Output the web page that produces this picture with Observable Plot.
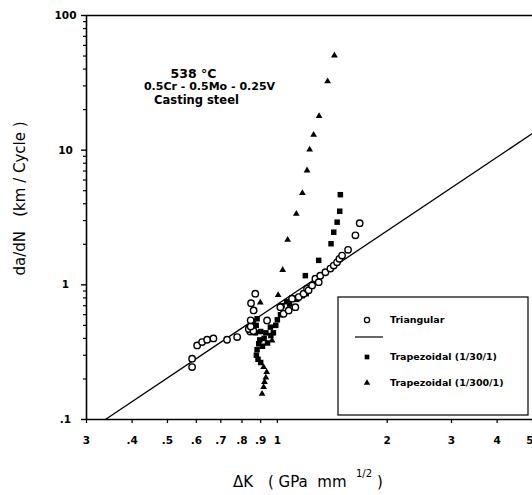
<!DOCTYPE html>
<html><head><meta charset="utf-8">
<script src="https://cdn.jsdelivr.net/npm/d3@7"></script>
<script src="https://cdn.jsdelivr.net/npm/@observablehq/plot@0.6"></script>
<style>body{margin:0;background:#fff}#chart{width:532px;height:495px}</style>
</head><body><div id="chart"></div>
<script>
// ---- tick values / labels ----
const xTicks = [0.3, 0.4, 0.5, 0.6, 0.7, 0.8, 0.9, 1, 2, 3, 4, 5];
const xTickLabels = ["3", ".4", ".5", ".6", ".7", ".8", ".9", "1", "2", "3", "4", "5"];
const yTicks = [0.1, 1, 10, 100];
const yTickLabels = [".1", "1", "10", "100"];
const yMinorTicks = [0.2,0.3,0.4,0.5,0.6,0.7,0.8,0.9,2,3,4,5,6,7,8,9,20,30,40,50,60,70,80,90];

// ---- annotation / titles / legend text ----
const annoLines = ["538 °C", "0.5Cr - 0.5Mo - 0.25V", "Casting steel"];
const yTitle = "da/dN   (km / Cycle )";
const legendLabels = ["Triangular", "", "Trapezoidal (1/30/1)", "Trapezoidal (1/300/1)"];

// ---- fitted line (Triangular) ----
const fitX = [0.338, 5];
const fitY = [0.1, 13.3];

// ---- Triangular (open circles) ----
const triX = [0.584,0.584,0.603,0.622,0.642,0.668,0.728,0.776,
  0.843,0.835,0.86,0.845,0.845,0.861,0.847,0.870,
  0.937,1.019,1.040,1.074,1.097,1.12,1.144,1.18,1.206,1.218,1.245,1.271,1.298,1.311,1.354,1.397,1.427,1.457,1.479,1.504,1.562,1.636,1.681];
const triY = [0.283,0.245,0.355,0.376,0.391,0.40,0.391,0.409,
  0.45,0.47,0.455,0.49,0.545,0.646,0.731,0.859,
  0.544,0.683,0.61,0.646,0.789,0.683,0.811,0.859,0.935,0.91,0.99,1.11,1.047,1.17,1.24,1.32,1.39,1.47,1.56,1.65,1.82,2.33,2.87];

// ---- Trapezoidal (1/30/1) (filled squares) ----
const sqX = [1.488,1.482,1.458,1.427,1.403,1.298,1.193,
  1.2,1.17,1.13,1.097,1.06,1.03,1.02,1.0,0.957,
  0.96,0.93,0.90,0.92,0.895,0.86,0.875,0.87,
  0.889,0.88,0.876,0.885,0.9,
  0.94,0.975,0.91,0.88,0.99,1.08];
const sqY = [4.67,3.52,2.92,2.46,2.02,1.52,1.17,
  0.86,0.83,0.78,0.80,0.75,0.70,0.60,0.55,0.485,
  0.42,0.44,0.45,0.40,0.39,0.52,0.50,0.44,
  0.365,0.33,0.30,0.28,0.265,
  0.37,0.44,0.35,0.56,0.50,0.72];

// ---- Trapezoidal (1/300/1) (filled triangles) ----
const tpX = [1.433,1.373,1.301,1.257,1.226,1.206,1.171,1.127,1.067,1.034,1.005,0.898,0.967,0.917,0.935,0.93,0.922,0.917,0.908];
const tpY = [50.5,32.4,17.9,13.0,10.1,7.07,4.80,3.37,2.16,1.29,0.84,0.74,0.386,0.245,0.225,0.205,0.19,0.174,0.155];

const pts = (xs, ys) => xs.map((x, i) => ({x, y: ys[i]}));
const xLab = xTicks.map((x, i) => ({x, t: xTickLabels[i]}));
const last = xLab.length - 1;

const svg = Plot.plot({
  width: 532, height: 495,
  marginLeft: 86, marginRight: 0, marginTop: 15, marginBottom: 76,
  style: {fontFamily: "DejaVu Sans", fontSize: "10.5px", color: "black", background: "white"},
  x: {type: "log", domain: [0.3, 5], label: null},
  y: {type: "log", domain: [0.1, 100], label: null},
  marks: [
    Plot.axisX(xTicks, {tickSize: 4, tickFormat: () => "", strokeWidth: 1.2, label: null}),
    Plot.text(xLab.slice(0, last), {x: "x", text: "t", frameAnchor: "bottom", dy: 21, lineAnchor: "middle", textAnchor: "middle", fontWeight: "bold", fontSize: 10.5}),
    Plot.text(xLab.slice(last), {x: "x", text: "t", frameAnchor: "bottom", dy: 21, lineAnchor: "middle", textAnchor: "end", dx: 1, fontWeight: "bold", fontSize: 10.5}),
    Plot.axisY(yMinorTicks, {tickSize: 3, tickFormat: () => "", strokeWidth: 1.2, label: null}),
    Plot.axisY(yTicks, {tickSize: 5, tickFormat: () => "", strokeWidth: 1.4, label: null}),
    Plot.text(yTicks, {y: d => d, text: (d, i) => yTickLabels[i], frameAnchor: "left", dx: -21, textAnchor: "middle", fontWeight: "bold", fontSize: 10.5}),
    Plot.ruleX([0.3], {strokeWidth: 1.6}),
    Plot.ruleY([0.1], {strokeWidth: 1.6}),
    Plot.ruleY([100], {strokeWidth: 1.4}),
    Plot.line(pts(fitX, fitY), {x: "x", y: "y", stroke: "black", strokeWidth: 1.3}),
    Plot.dot(pts(sqX, sqY), {x: "x", y: "y", symbol: "square", r: 3.1, fill: "black"}),
    Plot.dot(pts(tpX, tpY), {x: "x", y: "y", symbol: "triangle", r: 2.5, fill: "black"}),
    Plot.dot(pts(triX, triY), {x: "x", y: "y", symbol: "circle", r: 3.2, fill: "white", stroke: "black", strokeWidth: 1.4}),
    Plot.text([annoLines[0]], {frameAnchor: "top-left", dx: 107, dy: 54, textAnchor: "middle", fontWeight: "bold", fontSize: 12.5}),
    Plot.text([annoLines[1]], {frameAnchor: "top-left", dx: 123, dy: 67, textAnchor: "middle", fontWeight: "bold", fontSize: 11}),
    Plot.text([annoLines[2]], {frameAnchor: "top-left", dx: 110, dy: 80, textAnchor: "middle", fontWeight: "bold", fontSize: 11.5}),
    Plot.text([yTitle], {frameAnchor: "left", dx: -66, dy: -19, rotate: -90, textAnchor: "middle", fontSize: 15})
  ]
});

const s = d3.select(svg);
// x-axis title with superscript
const xt = s.append("g").attr("font-family", "DejaVu Sans").attr("fill", "black").attr("text-anchor", "start");
xt.append("text").attr("x", 233).attr("y", 487).attr("font-size", 15).text("ΔK");
xt.append("text").attr("x", 268).attr("y", 487).attr("font-size", 15).text("( GPa  mm");
xt.append("text").attr("x", 356).attr("y", 477).attr("font-size", 10).text("1/2");
xt.append("text").attr("x", 377).attr("y", 487).attr("font-size", 15).text(")");

// legend box
const lg = s.append("g").attr("font-family", "DejaVu Sans").attr("font-size", 9.5).attr("font-weight", "bold").attr("text-anchor", "start");
lg.append("rect").attr("x", 338).attr("y", 297).attr("width", 190).attr("height", 118)
  .attr("fill", "white").attr("stroke", "black").attr("stroke-width", 1.2);
const rowY = [320, 337, 357, 383];
lg.append("circle").attr("cx", 367).attr("cy", rowY[0]).attr("r", 2.6).attr("fill", "white").attr("stroke", "black").attr("stroke-width", 1.3);
lg.append("line").attr("x1", 355).attr("x2", 383).attr("y1", rowY[1]).attr("y2", rowY[1]).attr("stroke", "black").attr("stroke-width", 1.2);
lg.append("path").attr("transform", `translate(367,${rowY[2]})`).attr("d", d3.symbol(d3.symbolSquare, 22)()).attr("fill", "black");
lg.append("path").attr("transform", `translate(367,${rowY[3]})`).attr("d", d3.symbol(d3.symbolTriangle, 18)()).attr("fill", "black");
legendLabels.forEach((t, i) => {
  if (t) lg.append("text").attr("x", 390).attr("y", rowY[i]).attr("dy", "0.35em").text(t);
});

document.getElementById("chart").appendChild(svg);
</script>
</body></html>
